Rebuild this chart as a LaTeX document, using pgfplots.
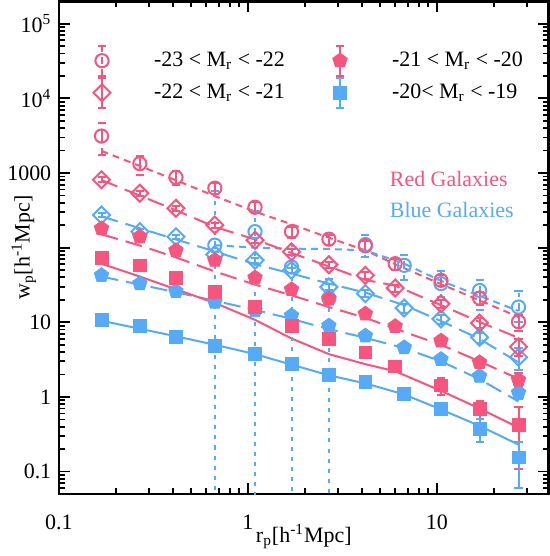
\documentclass[border=0pt]{standalone}
\usepackage{fontspec}
\setmainfont{Liberation Serif}
\usepackage{pgfplots}
\usepackage{pgfplotstable}
\pgfplotsset{compat=1.18}
\usetikzlibrary{plotmarks}

\definecolor{redgal}{RGB}{247,85,125}
\definecolor{bluegal}{RGB}{85,170,250}

% columns: r_p, w_p, upper error, lower error, model curve
\pgfplotstableread{
x      y      ep     em     m
0.168  3130   1590   1380   1977
0.268  1335   345    386    1243
0.416  875    177    180    800
0.668  628    100    100    491
1.09   348    60     60     304
1.70   164    25     25     206
2.68   130    20     20     136
4.18   106    15     15     92
6.01   61     10     10     60
10.5   36.5   6      6      32.5
16.8   21.1   4      4      19.7
27.0   10.2   2.5    2.5    11.8
}\redA

\pgfplotstableread{
x      y      ep     em       m
0.668  108    463    107.99   108
1.09   164    144    163.99   100
1.70   55     78     54.99    97
2.68   21     17.5   20.99    96
4.18   110    37     34       92
6.71   58     21     21       61
10.5   33     15     11       36
16.8   26.7   10     12       22.6
27.0   16     10     6        14.2
}\blueA

\pgfplotstableread{
x      y      e      m
0.168  813    60     805
0.268  537    40     498
0.416  337    25     317
0.668  201    15     190
1.09   126    10     129
1.70   88     7      85
2.68   59     5      56
4.18   42.6   4      37
6.01   28.8   3      31
10.5   17.7   2      17
16.8   9.8    1.5    10.1
27.0   4.7    1.2    6.2
}\redB

\pgfplotstableread{
x      y      e      m
0.168  274    20     263
0.268  164    12     182
0.416  140    10     129
0.668  81     6      89
1.09   68     5      60
1.70   49.8   4      45
2.68   29.7   3      33
4.18   24.2   2.5    25
6.71   15.5   2      17
10.5   11.1   1.5    10.4
16.8   6.3    1.0    6.0
27.0   3.4    1.1    2.9
}\blueB

\pgfplotstableread{
x      y      e      m
0.168  181    10     151
0.268  140    8      107
0.416  92     6      74
0.668  68     4      48
1.09   39.6   3      32
1.70   27.6   2      23
2.68   20.6   1.5    16
4.18   13.0   1      11.5
6.01   8.85   0.8    8.2
10.5   5.66   0.6    5.0
16.8   2.9    0.4    3.0
27.0   1.69   0.4    1.75
}\redC

\pgfplotstableread{
x      y      e      m
0.168  42.6   2      41
0.268  33     1.5    32
0.416  26     1.2    25.3
0.668  18.7   1      19.4
1.09   14.4   0.8    14.7
1.70   12.3   0.7    11.1
2.68   9.0    0.5    8.1
4.18   6.6    0.4    6.2
6.71   4.6    0.3    4.5
10.5   3.2    0.25   3.0
16.8   1.9    0.2    1.73
27.0   1.14   0.2    0.87
}\blueC

\pgfplotstableread{
x      y      e      m
0.168  73     4      61
0.268  58     3      41
0.416  39     2      27.7
0.668  25.5   1.5    18.2
1.09   16.1   1      10.8
1.70   9.0    0.6    6.07
2.68   5.97   0.5    3.75
4.18   3.95   0.4    2.75
6.01   2.56   0.4    2.21
10.5   1.43   0.37   1.21
16.8   0.695  0.19   0.70
27.0   0.418  0.31   0.389
}\redD

\pgfplotstableread{
x      y      e      m
0.168  10.9   0.5    10.5
0.268  9.0    0.4    8.2
0.416  6.4    0.3    6.5
0.668  4.85   0.25   5.0
1.09   3.75   0.2    3.75
1.70   2.75   0.15   2.71
2.68   1.95   0.12   1.95
4.18   1.59   0.1    1.52
6.71   1.11   0.08   1.08
10.5   0.70   0.1    0.68
16.8   0.374  0.125  0.41
27.0   0.155  0.095  0.23
}\blueD

\tikzset{
  shortdash/.style={dash pattern=on 3.5bp off 2.5bp},
  longdash/.style={dash pattern=on 8.5bp off 4bp},
  dotbar/.style={dash pattern=on 2bp off 3bp},
}

\begin{document}
\fontsize{11}{13}\selectfont
\begin{tikzpicture}[font=\fontsize{11}{13}\selectfont]
\begin{axis}[
  scale only axis, width=244.5bp, height=246bp,
  xmode=log, ymode=log,
  xmin=0.1, xmax=39, ymin=0.05, ymax=2e5,
  xtick={0.1,1,10}, xticklabels={0.1,1,10},
  minor xtick={0.2,0.3,0.4,0.5,0.6,0.7,0.8,0.9,2,3,4,5,6,7,8,9,20,30},
  ytick={0.1,1,10,100,1000,10000,100000},
  yticklabels={0.1,1,10,,1000,10\textsuperscript{4},10\textsuperscript{5}},
  minor ytick={0.06,0.07,0.08,0.09,0.2,0.3,0.4,0.5,0.6,0.7,0.8,0.9,
    2,3,4,5,6,7,8,9,20,30,40,50,60,70,80,90,200,300,400,500,600,700,800,900,
    2000,3000,4000,5000,6000,7000,8000,9000,20000,30000,40000,50000,60000,70000,80000,90000},
  tick align=inside,
  major tick length=5.5bp, minor tick length=2.8bp,
  every tick/.style={black, line width=0.9bp},
  axis line style={line width=1.3bp},
  xticklabel style={anchor=base, yshift=-17.5bp},
  xlabel={r\textsubscript{p}[h\textsuperscript{-1}Mpc]},
  ylabel={w\textsubscript{p}[h\textsuperscript{-1}Mpc]},
  xlabel style={at={(axis description cs:0.5,0)}, anchor=base, yshift=-24bp},
  ylabel style={at={(axis description cs:-0.0716,0.5)}, anchor=center},
  legend style={at={(axis description cs:0.0675,0.912)}, anchor=north west,
    draw=none, fill=none, inner sep=0pt, outer sep=0pt, row sep=0bp,
    font=\fontsize{11}{13}\selectfont,
    /tikz/every odd column/.append style={column sep=19bp},
    /tikz/every even column/.append style={column sep=20.5bp}},
  legend columns=2, legend cell align=left,
  error bars/error bar style={line width=1bp, solid},
  error bars/error mark options={rotate=90, mark size=2bp, line width=1bp, solid},
  diam/.style={mark=square, mark options={rotate=45, solid}, mark size=3bp},
]

% model curves
\addplot[redgal, line width=1bp, shortdash, forget plot] table[x=x,y=m] {\redA};
\addplot[bluegal, line width=1bp, shortdash, forget plot] table[x=x,y=m] {\blueA};
\addplot[redgal, line width=1bp, longdash, forget plot] table[x=x,y=m] {\redB};
\addplot[bluegal, line width=1bp, longdash, forget plot] table[x=x,y=m] {\blueB};
\addplot[redgal, line width=1bp, longdash, forget plot] table[x=x,y=m] {\redC};
\addplot[bluegal, line width=1bp, longdash, forget plot] table[x=x,y=m] {\blueC};
\addplot[redgal, line width=1bp, forget plot] table[x=x,y=m] {\redD};
\addplot[bluegal, line width=1bp, forget plot] table[x=x,y=m] {\blueD};

% measurements
\addplot[bluegal, only marks, mark=o, mark size=3.3bp, line width=1bp, forget plot,
  error bars/.cd, y dir=both, y explicit, error bar style={dotbar}]
  table[x=x, y=y, y error plus=ep, y error minus=em] {\blueA};
\addplot[redgal, only marks, mark=o, mark size=3.3bp, line width=1bp, forget plot,
  error bars/.cd, y dir=both, y explicit, error bar style={shortdash}]
  table[x=x, y=y, y error plus=ep, y error minus=em] {\redA};
\addplot[bluegal, only marks, diam, line width=1bp, forget plot,
  error bars/.cd, y dir=both, y explicit]
  table[x=x, y=y, y error=e] {\blueB};
\addplot[redgal, only marks, diam, line width=1bp, forget plot,
  error bars/.cd, y dir=both, y explicit]
  table[x=x, y=y, y error=e] {\redB};
\addplot[bluegal, only marks, mark=pentagon*, mark size=3.8bp, forget plot,
  error bars/.cd, y dir=both, y explicit]
  table[x=x, y=y, y error=e] {\blueC};
\addplot[redgal, only marks, mark=pentagon*, mark size=3.8bp, forget plot,
  error bars/.cd, y dir=both, y explicit]
  table[x=x, y=y, y error=e] {\redC};
\addplot[redgal, only marks, mark=square*, mark size=3.2bp, forget plot,
  error bars/.cd, y dir=both, y explicit]
  table[x=x, y=y, y error=e] {\redD};
\addplot[bluegal, only marks, mark=square*, mark size=3.2bp, forget plot,
  error bars/.cd, y dir=both, y explicit]
  table[x=x, y=y, y error=e] {\blueD};

% legend
\addlegendimage{legend image code/.code={
  \path[draw=none, fill=none] (-5bp,-8bp) rectangle (5bp,8bp);
  \draw[redgal, line width=1bp, shortdash] (0bp,-7.5bp) -- (0bp,7.5bp);
  \draw[redgal, line width=1bp] (-2bp,7.5bp) -- (2bp,7.5bp) (-2bp,-7.5bp) -- (2bp,-7.5bp);
  \draw[redgal, line width=1bp, mark size=3.3bp, fill=white] plot[mark=o] coordinates {(0bp,0bp)};
}}
\addlegendentry{-23 < M\textsubscript{r} < -22}
\addlegendimage{legend image code/.code={
  \path[draw=none, fill=none] (-5bp,-8bp) rectangle (5bp,8bp);
  \draw[redgal, line width=1bp] (0bp,-7.5bp) -- (0bp,7.5bp);
  \draw[redgal, line width=1bp] (-2bp,7.5bp) -- (2bp,7.5bp) (-2bp,-7.5bp) -- (2bp,-7.5bp);
  \path[redgal, fill=redgal, mark size=3.8bp] plot[mark=pentagon*] coordinates {(0bp,0bp)};
}}
\addlegendentry{-21 < M\textsubscript{r} < -20}
\addlegendimage{legend image code/.code={
  \path[draw=none, fill=none] (-5bp,-8bp) rectangle (5bp,8bp);
  \draw[redgal, line width=1bp] (0bp,-7.5bp) -- (0bp,7.5bp);
  \draw[redgal, line width=1bp] (-2bp,7.5bp) -- (2bp,7.5bp) (-2bp,-7.5bp) -- (2bp,-7.5bp);
  \draw[redgal, line width=1bp, mark size=3bp] plot[mark=square, mark options={rotate=45}] coordinates {(0bp,0bp)};
}}
\addlegendentry{-22 < M\textsubscript{r} < -21}
\addlegendimage{legend image code/.code={
  \path[draw=none, fill=none] (-5bp,-8bp) rectangle (5bp,8bp);
  \draw[bluegal, line width=1bp] (0bp,-7.5bp) -- (0bp,7.5bp);
  \draw[bluegal, line width=1bp] (-2bp,7.5bp) -- (2bp,7.5bp) (-2bp,-7.5bp) -- (2bp,-7.5bp);
  \path[bluegal, fill=bluegal, mark size=3.2bp] plot[mark=square*] coordinates {(0bp,0bp)};
}}
\addlegendentry{-20< M\textsubscript{r} < -19}

\node[anchor=base west, text=redgal] at (axis description cs:0.66,0.624) {Red Galaxies};
\node[anchor=base west, text=bluegal] at (axis description cs:0.66,0.561) {Blue Galaxies};
\end{axis}
\end{tikzpicture}
\end{document}
